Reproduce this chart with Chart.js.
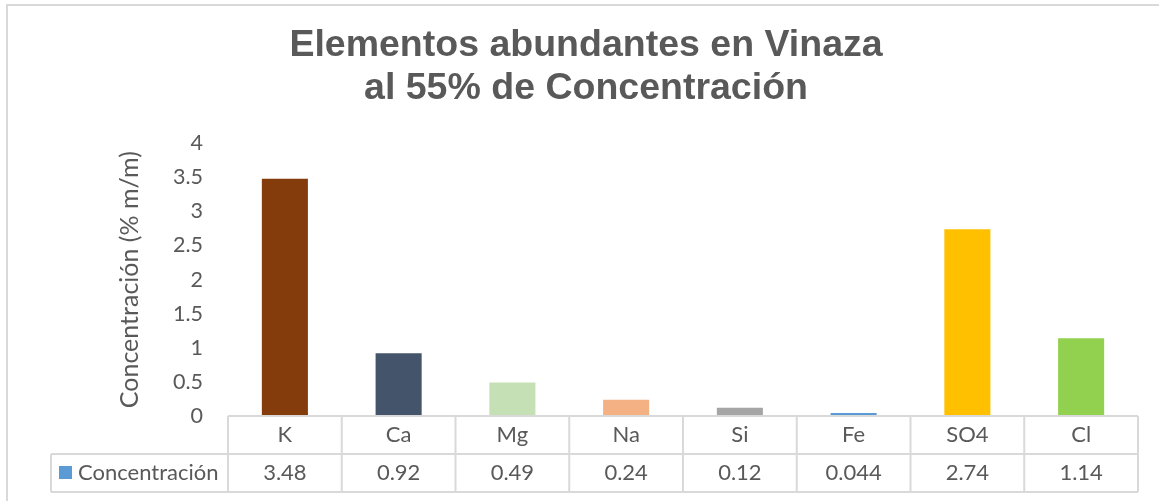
<!DOCTYPE html>
<html>
<head>
<meta charset="utf-8">
<script src="https://cdn.jsdelivr.net/npm/chart.js@4"></script>
<style>
  html, body { margin: 0; padding: 0; background: #fff; }
  #wrap { width: 1159px; height: 501px; position: relative; }
</style>
</head>
<body>
<div id="wrap"><canvas id="chart"></canvas></div>
<script>
// Data
const categories = ['K', 'Ca', 'Mg', 'Na', 'Si', 'Fe', 'SO4', 'Cl'];
const values = [3.48, 0.92, 0.49, 0.24, 0.12, 0.044, 2.74, 1.14];
const valueLabels = ['3.48', '0.92', '0.49', '0.24', '0.12', '0.044', '2.74', '1.14'];
const yTickLabels = ['0', '0.5', '1', '1.5', '2', '2.5', '3', '3.5', '4'];
const seriesName = 'Concentración';
const yTickStep = 0.5;
const yMax = 4;

const barColors = ['#843c0c', '#44546a', '#c5e0b4', '#f4b183', '#a5a5a5', '#5b9bd5', '#ffc000', '#92d050'];
const textColor = '#595959';
const lineColor = '#d9d9d9';
const bodyFont = 'Lato, "Open Sans", sans-serif';

// Frame round the whole chart (only left and top edges are visible)
const framePlugin = {
  id: 'frame',
  beforeDraw(chart) {
    const { ctx } = chart;
    ctx.save();
    ctx.fillStyle = '#fff';
    ctx.fillRect(0, 0, chart.width, chart.height);
    ctx.strokeStyle = lineColor;
    ctx.lineWidth = 2;
    ctx.strokeRect(7, 5, chart.width + 20, chart.height + 20);
    ctx.restore();
  }
};

// Data table under the plot, built from the x scale
const tablePlugin = {
  id: 'dataTable',
  afterDraw(chart) {
    const { ctx, chartArea } = chart;
    const x = chart.scales.x;
    const n = categories.length;
    const colW = (chartArea.right - chartArea.left) / n;
    const top = chartArea.bottom;
    const mid = top + 38;
    const bottom = top + 76;
    const legendLeft = 51;

    ctx.save();
    ctx.strokeStyle = lineColor;
    ctx.lineWidth = 2;
    ctx.beginPath();
    ctx.moveTo(chartArea.left, top);
    ctx.lineTo(chartArea.right, top);
    ctx.moveTo(legendLeft, mid);
    ctx.lineTo(chartArea.right, mid);
    ctx.moveTo(legendLeft, bottom);
    ctx.lineTo(chartArea.right, bottom);
    ctx.moveTo(legendLeft, mid);
    ctx.lineTo(legendLeft, bottom);
    for (let i = 0; i <= n; i++) {
      const px = i < n ? x.getPixelForValue(i) - colW / 2 : chartArea.right;
      ctx.moveTo(px, top);
      ctx.lineTo(px, bottom);
    }
    ctx.stroke();

    ctx.fillStyle = textColor;
    ctx.font = '22px ' + bodyFont;
    ctx.textAlign = 'center';
    ctx.textBaseline = 'middle';
    categories.forEach((c, i) => {
      const px = x.getPixelForValue(i);
      ctx.fillText(c, px, (top + mid) / 2);
      ctx.fillText(valueLabels[i], px, (mid + bottom) / 2);
    });

    ctx.fillStyle = '#5b9bd5';
    ctx.fillRect(59, mid + 12, 13, 13);
    ctx.fillStyle = textColor;
    ctx.textAlign = 'left';
    ctx.fillText(seriesName, 78, (mid + bottom) / 2);
    ctx.restore();
  }
};

const chart = new Chart(document.getElementById('chart'), {
  type: 'bar',
  data: {
    labels: categories,
    datasets: [{
      label: seriesName,
      data: values,
      backgroundColor: barColors,
      borderWidth: 0,
      categoryPercentage: 1,
      barPercentage: 0.405
    }]
  },
  options: {
    responsive: true,
    maintainAspectRatio: false,
    animation: false,
    layout: { padding: { top: 0, right: 21, bottom: 85, left: 34 } },
    plugins: {
      legend: { display: false },
      tooltip: { enabled: false },
      title: {
        display: true,
        text: ['Elementos abundantes en Vinaza', 'al 55% de Concentración'],
        color: textColor,
        font: { family: '"Liberation Sans", Arial, sans-serif', size: 37.5, weight: 'bold', lineHeight: 1.15 },
        padding: { top: 24, bottom: 33 }
      }
    },
    scales: {
      x: { display: false },
      y: {
        min: 0,
        max: yMax,
        grid: { display: false, drawTicks: false },
        border: { display: false },
        ticks: {
          stepSize: yTickStep,
          color: textColor,
          padding: 25,
          font: { family: bodyFont, size: 21.5 },
          callback: (v, i) => yTickLabels[i]
        },
        title: {
          display: true,
          text: 'Concentración (% m/m)',
          color: textColor,
          font: { family: bodyFont, size: 25 },
          padding: { top: 81, bottom: 0 }
        },
        afterFit(scale) {
          scale.width = 194;
        }
      }
    }
  },
  plugins: [framePlugin, tablePlugin]
});
</script>
</body>
</html>
